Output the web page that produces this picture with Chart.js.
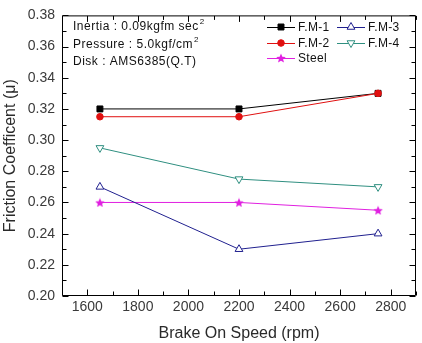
<!DOCTYPE html>
<html>
<head>
<meta charset="utf-8">
<script src="https://cdn.jsdelivr.net/npm/chart.js@4.4.1/dist/chart.umd.min.js"></script>
<style>
  html, body { margin: 0; padding: 0; background: #fff; }
  #wrap { width: 422px; height: 343px; }
</style>
</head>
<body>
<div id="wrap"><canvas id="chart"></canvas></div>
<script>
const SPEEDS = [1650, 2200, 2750];
const FM1 = [0.32, 0.32, 0.33];
const FM2 = [0.315, 0.315, 0.33];
const FM3 = [0.27, 0.23, 0.24];
const FM4 = [0.295, 0.275, 0.27];
const STEEL = [0.26, 0.26, 0.255];

const X_TICKS = [1600, 1800, 2000, 2200, 2400, 2600, 2800];
const X_MINOR = [1500, 1700, 1900, 2100, 2300, 2500, 2700, 2900];
const Y_TICKS = [0.20, 0.22, 0.24, 0.26, 0.28, 0.30, 0.32, 0.34, 0.36, 0.38];
const Y_MINOR = [0.21, 0.23, 0.25, 0.27, 0.29, 0.31, 0.33, 0.35, 0.37];

const NOTES = [
  ['Inertia : 0.09kgfm sec', '2'],
  ['Pressure : 5.0kgf/cm', '2'],
  ['Disk : AMS6385(Q.T)', ''],
];

const FONT = '"Liberation Sans", Arial, sans-serif';

function starImage(color, size) {
  const c = document.createElement('canvas');
  c.width = c.height = size;
  const g = c.getContext('2d');
  const cx = size / 2, cy = size / 2 + 0.5, R = size / 2, r = R * 0.45;
  g.beginPath();
  for (let i = 0; i < 10; i++) {
    const ang = -Math.PI / 2 + i * Math.PI / 5;
    const rad = i % 2 ? r : R;
    g.lineTo(cx + rad * Math.cos(ang), cy + rad * Math.sin(ang));
  }
  g.closePath();
  g.fillStyle = color;
  g.fill();
  return c;
}

const star = starImage('#e020e0', 10);

function points(ys) {
  return SPEEDS.map((x, i) => ({ x, y: ys[i] }));
}

function series(label, ys, color, style, extra = {}) {
  return {
    label,
    data: points(ys),
    borderColor: color,
    backgroundColor: color,
    borderWidth: 1,
    pointStyle: style,
    pointRadius: 4,
    pointBorderWidth: 1,
    pointBorderColor: color,
    pointBackgroundColor: color,
    tension: 0,
    ...extra,
  };
}

// FM-1 gets a higher order so FM-2 is drawn over it where they meet
const datasets = [
  series('F.M-1', FM1, '#000000', 'rect', { pointRadius: 4.2, order: 1 }),
  series('F.M-2', FM2, '#e01010', 'circle', { pointRadius: 3.3 }),
  series('F.M-3', FM3, '#20208f', 'triangle', { pointBackgroundColor: '#fff', pointRadius: 4.5 }),
  series('F.M-4', FM4, '#2f8f80', 'triangle', { pointBackgroundColor: '#fff', pointRadius: 4.5, pointRotation: 180 }),
  series('Steel', STEEL, '#e020e0', star),
];

const frameTicks = {
  id: 'frameTicks',
  beforeDatasetsDraw(chart) {
    const { ctx, chartArea: a, scales: { x, y } } = chart;
    ctx.save();
    ctx.strokeStyle = '#000';
    ctx.lineWidth = 1;
    ctx.beginPath();
    const L = a.left + 0.5, R = a.right - 0.5, T = a.top + 0.5, B = a.bottom - 0.5;
    ctx.rect(L, T, R - L, B - T);
    const tick = (vals, len) => {
      vals.forEach((v) => {
        const px = Math.round(x.getPixelForValue(v)) + 0.5;
        ctx.moveTo(px, B); ctx.lineTo(px, B - len);
        ctx.moveTo(px, T); ctx.lineTo(px, T + len);
      });
    };
    const tickY = (vals, len) => {
      vals.forEach((v) => {
        const py = Math.round(y.getPixelForValue(v)) + 0.5;
        ctx.moveTo(L, py); ctx.lineTo(L + len, py);
        ctx.moveTo(R, py); ctx.lineTo(R - len, py);
      });
    };
    tick(X_TICKS, 6);
    tick(X_MINOR, 4);
    tickY(Y_TICKS, 6);
    tickY(Y_MINOR, 4);
    ctx.stroke();
    ctx.restore();
  },
  afterDraw(chart) {
    const { ctx } = chart;
    ctx.save();
    ctx.textBaseline = 'middle';
    ctx.fillStyle = '#111';

    // notes
    ctx.letterSpacing = '0.5px';
    NOTES.forEach(([txt, sup], i) => {
      const yy = 27 + i * 17.5;
      ctx.font = `12px ${FONT}`;
      ctx.fillText(txt, 73, yy);
      if (sup) {
        const w = ctx.measureText(txt).width;
        ctx.font = `8px ${FONT}`;
        ctx.fillText(sup, 73 + w + 1, yy - 5);
      }
    });

    // legend
    const slots = [[0, 267, 27], [2, 337, 27], [1, 267, 43], [3, 337, 43], [4, 267, 58]];
    ctx.letterSpacing = '0.3px';
    slots.forEach(([idx, x0, yy]) => {
      const ds = chart.data.datasets[idx];
      ctx.strokeStyle = ds.borderColor;
      ctx.lineWidth = 1;
      ctx.beginPath();
      ctx.moveTo(x0, yy + 0.5);
      ctx.lineTo(x0 + 28, yy + 0.5);
      ctx.stroke();
      const mx = x0 + 14;
      if (ds.pointStyle instanceof HTMLCanvasElement) {
        ctx.drawImage(ds.pointStyle, mx - ds.pointStyle.width / 2, yy - ds.pointStyle.height / 2);
      } else {
        ctx.fillStyle = ds.pointBackgroundColor;
        ctx.strokeStyle = ds.pointBorderColor;
        Chart.helpers.drawPoint(ctx, {
          pointStyle: ds.pointStyle,
          rotation: ds.pointRotation || 0,
          radius: ds.pointRadius,
          borderWidth: 1,
        }, mx, yy);
      }
      ctx.fillStyle = '#111';
      ctx.font = `12px ${FONT}`;
      ctx.fillText(ds.label, x0 + 31, yy + 1);
    });
    ctx.restore();
  },
};

new Chart(document.getElementById('chart'), {
  type: 'line',
  data: { datasets },
  options: {
    responsive: true,
    maintainAspectRatio: false,
    animation: false,
    layout: { padding: { top: 8, right: 6, left: 0, bottom: 0 } },
    plugins: { legend: { display: false }, tooltip: { enabled: false } },
    scales: {
      x: {
        type: 'linear',
        min: 1500,
        max: 2900,
        afterBuildTicks: (s) => { s.ticks = X_TICKS.map((v) => ({ value: v })); },
        afterFit: (s) => { s.height = 47; },
        grid: { display: false, drawTicks: false },
        border: { display: false },
        ticks: {
          color: '#3a3a3a',
          font: { family: FONT, size: 14 },
          padding: 3,
          maxRotation: 0,
          callback: (v) => String(v),
        },
        title: {
          display: true,
          text: 'Brake On Speed (rpm)',
          color: '#2a2a2a',
          font: { family: FONT, size: 16 },
          padding: { top: 0, bottom: 0 },
        },
      },
      y: {
        min: 0.20,
        max: 0.38,
        afterBuildTicks: (s) => { s.ticks = Y_TICKS.map((v) => ({ value: v })); },
        afterFit: (s) => { s.width = 62; },
        grid: { display: false, drawTicks: false },
        border: { display: false },
        ticks: {
          color: '#3a3a3a',
          font: { family: FONT, size: 14 },
          padding: 7,
          callback: (v) => v.toFixed(2),
        },
        title: {
          display: true,
          text: 'Friction Coefficent (\u03bc)',
          color: '#2a2a2a',
          font: { family: FONT, size: 16 },
          padding: { top: 1, bottom: 0 },
        },
      },
    },
  },
  plugins: [frameTicks],
});
</script>
</body>
</html>
